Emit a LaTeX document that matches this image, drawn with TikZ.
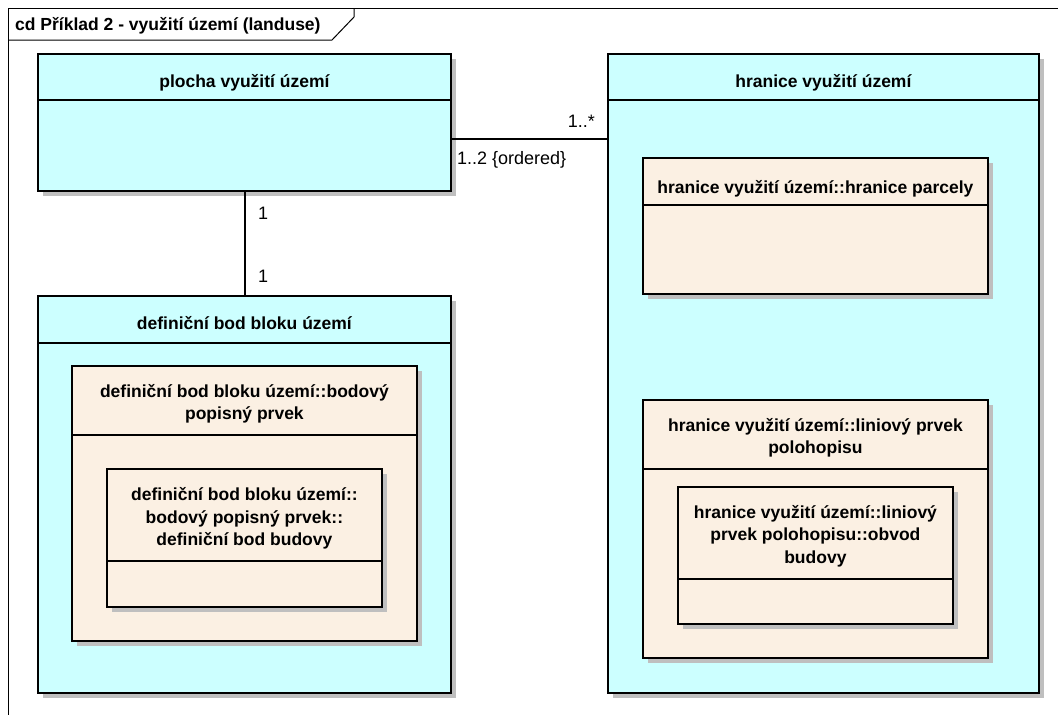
\documentclass[tikz,border=0pt]{standalone}
\usepackage{fontspec}
\setmainfont{Liberation Sans}
\usetikzlibrary{calc,shadows}

\definecolor{classcyan}{RGB}{204,255,255}
\definecolor{partbeige}{RGB}{251,240,227}
\definecolor{shadowgray}{RGB}{191,191,191}

\tikzset{
  umlbox/.style={draw,line width=1.8pt,inner sep=0pt,anchor=north west,
    drop shadow={shadow xshift=5pt,shadow yshift=-5pt,fill=shadowgray,opacity=1}},
  classbox/.style={umlbox,fill=classcyan},
  partbox/.style={umlbox,fill=partbeige},
  boxtitle/.style={font=\bfseries\fontsize{17.5}{22.5}\selectfont,align=center,inner sep=0pt},
  compline/.style={line width=1.8pt},
  assoc/.style={line width=1.4pt},
  multlabel/.style={font=\fontsize{18}{20}\selectfont,inner sep=0pt}
}

\begin{document}
\begin{tikzpicture}[x=1pt,y=-1pt]
	    \useasboundingbox (0,0) rectangle (1058,715);

	    % The diagram frame and its tab
	    \draw [line width=1pt] (8,715) -- (8,8) -- (1058,8);
	    \draw [line width=1pt] (8,40) -- (332,40) -- (354,17) -- (354,8);
	    \node [boxtitle,anchor=base west] (frame title) at (15,30)
		{cd Příklad 2 - využití území (landuse)};

	    % Class on the top left
	    \node [classbox,minimum width=413pt,minimum height=137pt] (plocha) at (37,53) {};
	    \draw [compline] ($(plocha.north west)+(0,47)$) -- ($(plocha.north east)+(0,47)$);
	    \node [boxtitle,anchor=base] (plocha title) at ($(plocha.north)+(0,34)$)
		{plocha využití území};

	    % Class on the right, with its two parts
	    \node [classbox,minimum width=431pt,minimum height=639pt] (hranice) at (607,53) {};
	    \draw [compline] ($(hranice.north west)+(0,47)$) -- ($(hranice.north east)+(0,47)$);
	    \node [boxtitle,anchor=base] (hranice title) at ($(hranice.north)+(0,34)$)
		{hranice využití území};

	    \node [partbox,minimum width=345pt,minimum height=136pt] (parcely) at (642,157) {};
	    \draw [compline] ($(parcely.north west)+(0,48)$) -- ($(parcely.north east)+(0,48)$);
	    \node [boxtitle,anchor=base] (parcely title) at ($(parcely.north)+(0,36)$)
		{hranice využití území::hranice parcely};

	    \node [partbox,minimum width=345pt,minimum height=258pt] (liniovy) at (642,399) {};
	    \draw [compline] ($(liniovy.north west)+(0,70)$) -- ($(liniovy.north east)+(0,70)$);
	    \node [boxtitle] (liniovy title) at ($(liniovy.north)+(0,39)$)
		{hranice využití území::liniový prvek\\polohopisu};

	    \node [partbox,minimum width=275pt,minimum height=137pt] (obvod) at (677,486) {};
	    \draw [compline] ($(obvod.north west)+(0,93)$) -- ($(obvod.north east)+(0,93)$);
	    \node [boxtitle] (obvod title) at ($(obvod.north)+(0,50)$)
		{hranice využití území::liniový\\prvek polohopisu::obvod\\budovy};

	    % Class on the bottom left, with its nested parts
	    \node [classbox,minimum width=413pt,minimum height=397pt] (definicni) at (37,295) {};
	    \draw [compline] ($(definicni.north west)+(0,48)$) -- ($(definicni.north east)+(0,48)$);
	    \node [boxtitle,anchor=base] (definicni title) at ($(definicni.north)+(0,34)$)
		{definiční bod bloku území};

	    \node [partbox,minimum width=345pt,minimum height=275pt] (bodovy) at (71,365) {};
	    \draw [compline] ($(bodovy.north west)+(0,70)$) -- ($(bodovy.north east)+(0,70)$);
	    \node [boxtitle] (bodovy title) at ($(bodovy.north)+(0,39)$)
		{definiční bod bloku území::bodový\\popisný prvek};

	    \node [partbox,minimum width=275pt,minimum height=138pt] (budovy) at (106,468) {};
	    \draw [compline] ($(budovy.north west)+(0,93)$) -- ($(budovy.north east)+(0,93)$);
	    \node [boxtitle] (budovy title) at ($(budovy.north)+(0,50.5)$)
		{definiční bod bloku území::\\bodový popisný prvek::\\definiční bod budovy};

	    % Associations and their multiplicities
	    \coordinate (assoc level) at (500,139);
	    \coordinate (link x) at (245,0);

	    \draw [assoc] (plocha.east |- assoc level) -- (hranice.west |- assoc level);
	    \node [multlabel,anchor=base east] (many end) at ($(hranice.west |- assoc level)+(-12,-12)$) {1..*};
	    \node [multlabel,anchor=base west] (ordered end) at ($(plocha.east |- assoc level)+(5,25)$) {1..2 \{ordered\}};

	    \draw [assoc] (plocha.south -| link x) -- (definicni.north -| link x);
	    \node [multlabel,anchor=base west] (upper end) at ($(plocha.south -| link x)+(13,28)$) {1};
	    \node [multlabel,anchor=base west] (lower end) at ($(definicni.north -| link x)+(13,-13)$) {1};
	\end{tikzpicture}
\end{document}
